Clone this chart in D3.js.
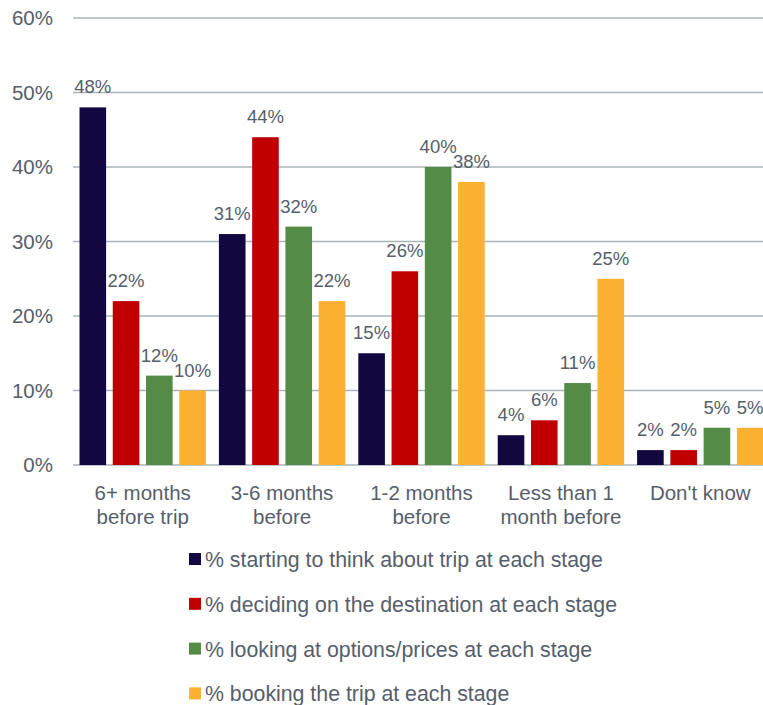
<!DOCTYPE html>
<html>
<head>
<meta charset="utf-8">
<script src="https://cdn.jsdelivr.net/npm/d3@7"></script>
<style>
  html, body { margin: 0; padding: 0; background: #fff; }
  svg { display: block; font-family: "Liberation Sans", Arial, sans-serif; }
</style>
</head>
<body>
<svg id="chart" width="763" height="705"></svg>
<script>
// Stages of trip planning
const categories = [
  ["6+ months", "before trip"],
  ["3-6 months", "before"],
  ["1-2 months", "before"],
  ["Less than 1", "month before"],
  ["Don't know"]
];
const seriesNames = [
  "% starting to think about trip at each stage",
  "% deciding on the destination at each stage",
  "% looking at options/prices at each stage",
  "% booking the trip at each stage"
];
const thinking = [48, 31, 15, 4, 2];
const deciding = [22, 44, 26, 6, 2];
const looking = [12, 32, 40, 11, 5];
const booking = [10, 22, 38, 25, 5];
const yTicks = [0, 10, 20, 30, 40, 50, 60];
const colors = ["#130740", "#c00000", "#548b46", "#fbb233"];

const series = [thinking, deciding, looking, booking];

const svg = d3.select("#chart");
const plotLeft = 73, plotRight = 770, plotTop = 18, plotBottom = 465;
const textColor = "#565e6c";

const y = d3.scaleLinear().domain([0, 60]).range([plotBottom, plotTop]);
const x0 = d3.scaleBand().domain(d3.range(categories.length)).range([plotLeft, plotRight]).paddingInner(0).paddingOuter(0);
const x1 = d3.scaleBand().domain(d3.range(series.length)).range([6.5, x0.bandwidth() - 6.5]).paddingInner(0.2);

// gridlines
svg.append("g").selectAll("line").data(yTicks).join("line")
  .attr("x1", plotLeft).attr("x2", 763)
  .attr("y1", d => y(d)).attr("y2", d => y(d))
  .attr("stroke", "#aab4b8").attr("stroke-width", 1.5);

// y axis labels
const yAxis = d3.axisLeft(y).tickValues(yTicks).tickFormat(d => d + "%").tickSize(0).tickPadding(20);
const yg = svg.append("g").attr("transform", `translate(${plotLeft},0)`).call(yAxis);
yg.select(".domain").remove();
yg.selectAll("text").attr("fill", textColor).attr("font-size", 20.5)
  .attr("font-family", "Liberation Sans, Arial, sans-serif");

// bars
const groups = svg.append("g").selectAll("g").data(categories).join("g")
  .attr("transform", (d, i) => `translate(${x0(i)},0)`);

groups.each(function(cat, ci) {
  const g = d3.select(this);
  series.forEach((vals, si) => {
    const v = vals[ci];
    g.append("rect")
      .attr("x", x1(si)).attr("width", x1.bandwidth())
      .attr("y", y(v)).attr("height", y(0) - y(v))
      .attr("fill", colors[si]);
    g.append("text")
      .attr("x", x1(si) + x1.bandwidth() / 2)
      .attr("y", y(v) - 14)
      .attr("text-anchor", "middle")
      .attr("font-size", 18.5)
      .attr("fill", textColor)
      .text(v + "%");
  });
  const t = g.append("text")
    .attr("x", x0.bandwidth() / 2)
    .attr("y", 500)
    .attr("text-anchor", "middle")
    .attr("font-size", 20.5)
    .attr("fill", textColor);
  cat.forEach((line, li) => {
    t.append("tspan").attr("x", x0.bandwidth() / 2).attr("dy", li === 0 ? 0 : 23.5).text(line);
  });
});

// legend
const legend = svg.append("g").selectAll("g").data(seriesNames).join("g")
  .attr("transform", (d, i) => `translate(189,${559 + i * 44.8})`);
legend.append("rect").attr("x", 0).attr("y", -6).attr("width", 12).attr("height", 12)
  .attr("fill", (d, i) => colors[i]);
legend.append("text").attr("x", 16).attr("y", 8)
  .attr("font-size", 21.3).attr("fill", textColor).text(d => d);
</script>
</body>
</html>
